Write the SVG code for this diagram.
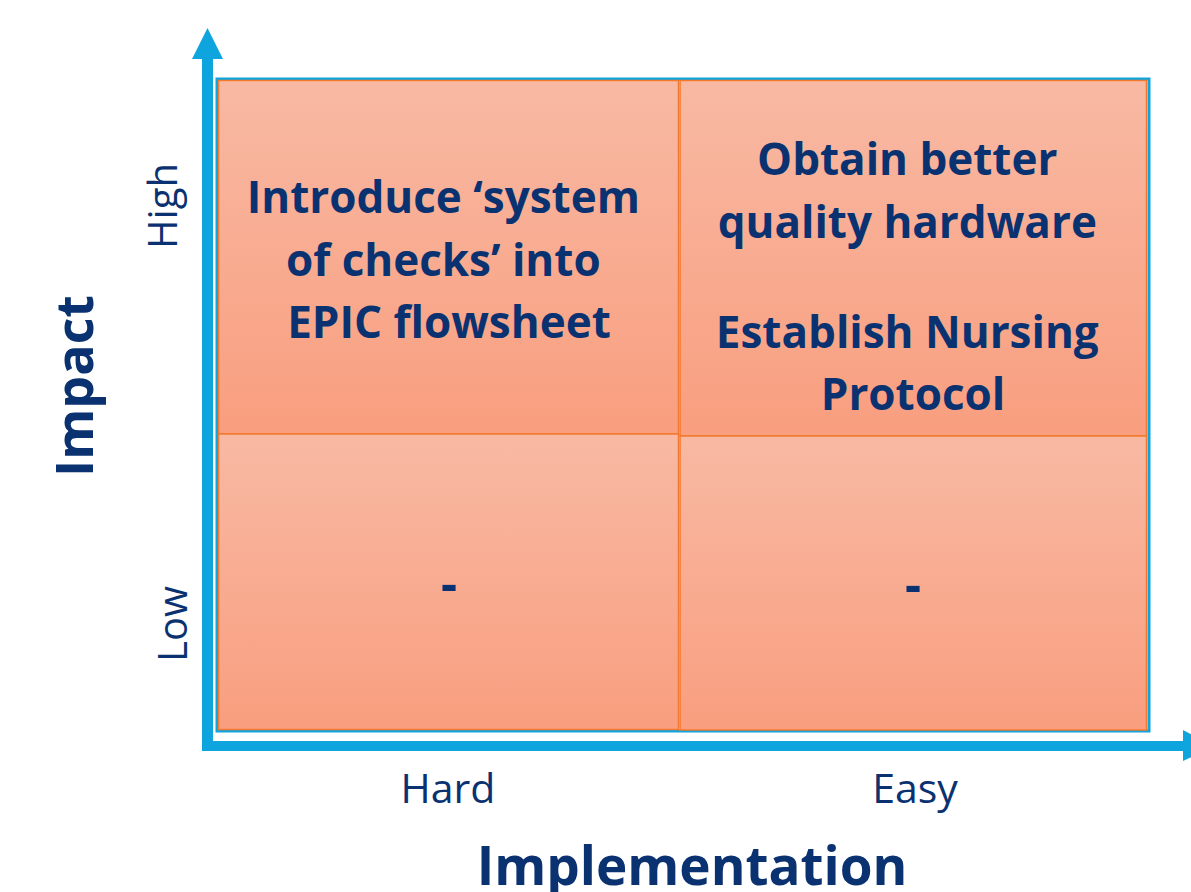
<svg xmlns="http://www.w3.org/2000/svg" width="1191" height="892" viewBox="0 0 1191 892">
  <style>
    .q { stroke: #F4792F; stroke-width: 1.5; }
    .bold { font-family: "Open Sans", "Liberation Sans", sans-serif; font-weight: 700; fill: #0B3270; }
    .reg { font-family: "Open Sans", "Liberation Sans", sans-serif; font-weight: 400; fill: #0B3270; }
    .axis { fill: #0EA5DE; }
  </style>
  <defs>
    <linearGradient id="g" x1="0" y1="0" x2="0" y2="1">
      <stop offset="0" stop-color="#F8B9A3"/>
      <stop offset="1" stop-color="#F99E7F"/>
    </linearGradient>
  </defs>
  <rect width="1191" height="892" fill="#FFFFFF"/>
  <g id="axes">
    <rect class="axis" x="202" y="57" width="11" height="694"/>
    <polygon class="axis" points="192,59 207.5,28 223,59"/>
    <rect class="axis" x="202" y="741" width="983" height="10"/>
    <polygon class="axis" points="1183,730 1214,746 1183,761"/>
  </g>
  <rect id="frame" x="217" y="79" width="932" height="652" fill="none" stroke="#0EA5DE" stroke-width="3"/>
  <g id="q-high-hard">
    <rect class="q" x="218.5" y="80.5" width="460" height="353.5" fill="url(#g)"/>
    <text class="bold" font-size="44" text-anchor="middle">
      <tspan x="449" y="213">Introduce ‘system</tspan>
      <tspan x="449" y="276">of checks’ into</tspan>
      <tspan x="449" y="338">EPIC flowsheet</tspan>
    </text>
  </g>
  <g id="q-high-easy">
    <rect class="q" x="680" y="80.5" width="466.5" height="355.5" fill="url(#g)"/>
    <text class="bold" font-size="44" text-anchor="middle">
      <tspan x="913" y="175">Obtain better</tspan>
      <tspan x="913" y="238">quality hardware</tspan>
      <tspan x="913" y="348">Establish Nursing</tspan>
      <tspan x="913" y="410">Protocol</tspan>
    </text>
  </g>
  <g id="q-low-hard">
    <rect class="q" x="218.5" y="434" width="460" height="295.5" fill="url(#g)"/>
    <text class="bold" font-size="50" text-anchor="middle" x="449" y="601">-</text>
  </g>
  <g id="q-low-easy">
    <rect class="q" x="680" y="436" width="466.5" height="294" fill="url(#g)"/>
    <text class="bold" font-size="50" text-anchor="middle" x="913" y="602">-</text>
  </g>
  <g id="labels">
    <text class="bold" font-size="52" text-anchor="middle" transform="translate(93,386) rotate(-90)">Impact</text>
    <text class="reg" font-size="40" text-anchor="middle" transform="translate(177,206) rotate(-90)">High</text>
    <text class="reg" font-size="40" text-anchor="middle" transform="translate(187,624) rotate(-90)">Low</text>
    <text class="reg" font-size="41" text-anchor="middle" x="448" y="803">Hard</text>
    <text class="reg" font-size="41" text-anchor="middle" x="915" y="803">Easy</text>
    <text class="bold" font-size="53" text-anchor="middle" x="692" y="885">Implementation</text>
  </g>
</svg>
